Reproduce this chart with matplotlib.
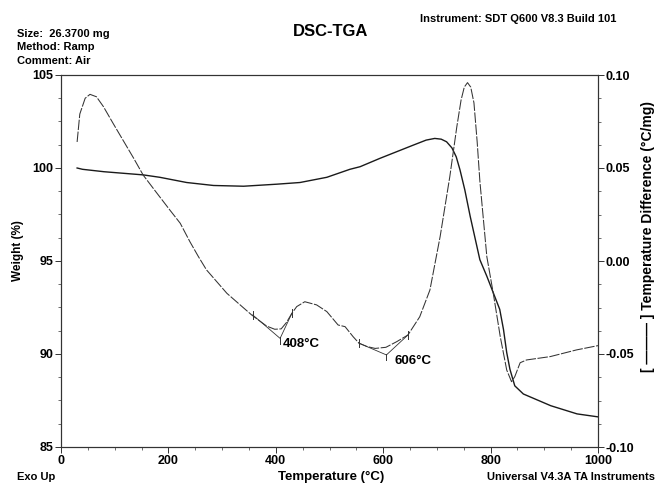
import matplotlib
matplotlib.use("Agg")
import matplotlib.pyplot as plt
from matplotlib.ticker import MultipleLocator, FormatStrFormatter

plt.rcParams['font.family'] = ['Liberation Sans', 'DejaVu Sans']
plt.rcParams['font.weight'] = 'bold'
plt.rcParams['axes.unicode_minus'] = False

# TGA: weight (%) vs temperature
tga_temp = [30, 40, 80, 153, 184, 234, 284, 340, 402, 445, 495, 538, 557, 594,
            656, 680, 696, 708, 718, 728, 736, 743, 752, 762, 780, 793, 805, 817,
            824, 830, 836, 845, 861, 912, 961, 1000]
tga_weight = [100.0, 99.93, 99.8, 99.63, 99.5, 99.22, 99.06, 99.02, 99.13, 99.22,
              99.5, 99.93, 100.07, 100.52, 101.23, 101.5, 101.59, 101.55, 101.41,
              101.08, 100.6, 99.9, 98.82, 97.4, 95.07, 94.18, 93.29, 92.4, 91.32,
              90.08, 89.18, 88.29, 87.85, 87.22, 86.78, 86.62]

# DSC: temperature difference (°C/mg) vs temperature
dsc_temp = [30, 35, 45, 54, 66, 79, 97, 116, 135, 153, 178, 203, 222, 240, 256,
            271, 309, 355, 383, 398, 410, 420, 430, 439, 454, 476, 495, 516, 529,
            544, 555, 570, 585, 605, 625, 646, 668, 687, 706, 724, 737, 745, 751,
            757, 763, 769, 775, 780, 793, 805, 818, 830, 839, 845, 855, 867, 911,
            960, 1000]
dsc_diff = [0.064, 0.079, 0.0875, 0.0896, 0.0883, 0.083, 0.074, 0.0647, 0.0554,
            0.0462, 0.0367, 0.0273, 0.0203, 0.0104, 0.0023, -0.0048, -0.0174,
            -0.029, -0.035, -0.0367, -0.0365, -0.033, -0.0281, -0.0245, -0.0219,
            -0.0236, -0.0272, -0.0344, -0.0353, -0.0407, -0.0442, -0.046, -0.047,
            -0.0464, -0.0434, -0.0398, -0.030, -0.0156, 0.0131, 0.0453, 0.0720,
            0.0865, 0.0935, 0.0959, 0.0935, 0.0850, 0.0640, 0.043, 0.0023, -0.0174,
            -0.0407, -0.0586, -0.0649, -0.0622, -0.0547, -0.0532, -0.0514, -0.0478,
            -0.0455]

# peak constructions
peak_temp = [408, 606]
peak_diff = [-0.0416, -0.0505]
peak_labels = ["408°C", "606°C"]
left_lim_temp = [357, 555]
left_lim_diff = [-0.029, -0.0442]
right_lim_temp = [430, 646]
right_lim_diff = [-0.0281, -0.0398]

W, H = 658, 484
fig = plt.figure(figsize=(W / 100, H / 100), dpi=100)
ax = fig.add_axes([61 / W, 37 / H, 537 / W, 372 / H])
ax2 = ax.twinx()

ax.plot(tga_temp, tga_weight, color="#1a1a1a", lw=1.0)
ax2.plot(dsc_temp, dsc_diff, color="#333333", lw=0.75, dashes=(10, 1.5))

lc = "#333333"
for i in range(len(peak_temp)):
    ax2.plot([left_lim_temp[i], peak_temp[i], right_lim_temp[i]],
             [left_lim_diff[i], peak_diff[i], right_lim_diff[i]], color=lc, lw=0.6)
    for t, d in [(left_lim_temp[i], left_lim_diff[i]), (right_lim_temp[i], right_lim_diff[i])]:
        ax2.plot([t, t], [d - 0.0022, d + 0.0022], color=lc, lw=0.7)
    ax2.plot([peak_temp[i], peak_temp[i]], [peak_diff[i] + 0.0005, peak_diff[i] - 0.0028],
             color=lc, lw=0.7)
    ax2.annotate(peak_labels[i], (peak_temp[i], peak_diff[i]), xytext=(2 + 4 * i, 0),
                 textcoords="offset points", ha="left", va="top", fontsize=9.5,
                 fontweight="bold")

ax.set_xlim(0, 1000)
ax.set_ylim(85, 105)
ax2.set_ylim(-0.10, 0.10)

ax.xaxis.set_major_locator(MultipleLocator(200))
ax.xaxis.set_minor_locator(MultipleLocator(50))
ax.yaxis.set_major_locator(MultipleLocator(5))
ax.yaxis.set_minor_locator(MultipleLocator(1.25))
ax2.yaxis.set_major_locator(MultipleLocator(0.05))
ax2.yaxis.set_minor_locator(MultipleLocator(0.0125))
ax2.yaxis.set_major_formatter(FormatStrFormatter("%.2f"))

for a in (ax, ax2):
    a.tick_params(which="major", length=4, width=0.7, labelsize=9, pad=1.5, color="#333333")
    a.tick_params(which="minor", length=2.5, width=0.6, color="#555555")
    for s in a.spines.values():
        s.set_linewidth(0.8)
        s.set_color("#333333")
ax.tick_params(top=False)

fig.text(17.5 / W, 1 - 251 / H, "Weight (%)", rotation=90, ha="center", va="center",
         fontsize=8.5, fontweight="bold")
fig.text(648 / W, 1 - 236 / H, "[ ——— ] Temperature Difference (°C/mg)", rotation=90,
         ha="center", va="center", fontsize=10, fontweight="bold")
fig.text(331 / W, 1 - 477 / H, "Temperature (°C)", ha="center", va="center",
         fontsize=9.5, fontweight="bold")
fig.text(17 / W, 1 - 477 / H, "Exo Up", ha="left", va="center", fontsize=8, fontweight="bold")
fig.text(655 / W, 1 - 477 / H, "Universal V4.3A TA Instruments", ha="right", va="center",
         fontsize=8, fontweight="bold")

fig.text(331 / W, 1 - 32 / H, "DSC-TGA", ha="center", va="center", fontsize=12,
         fontweight="bold")
fig.text(420 / W, 1 - 19 / H, "Instrument: SDT Q600 V8.3 Build 101", ha="left",
         va="center", fontsize=8, fontweight="bold")
fig.text(17 / W, 1 - 34 / H, "Size:  26.3700 mg", ha="left", va="center", fontsize=8,
         fontweight="bold")
fig.text(17 / W, 1 - 47.5 / H, "Method: Ramp", ha="left", va="center", fontsize=8,
         fontweight="bold")
fig.text(17 / W, 1 - 61 / H, "Comment: Air", ha="left", va="center", fontsize=8,
         fontweight="bold")

fig.savefig("out.png", dpi=100)
